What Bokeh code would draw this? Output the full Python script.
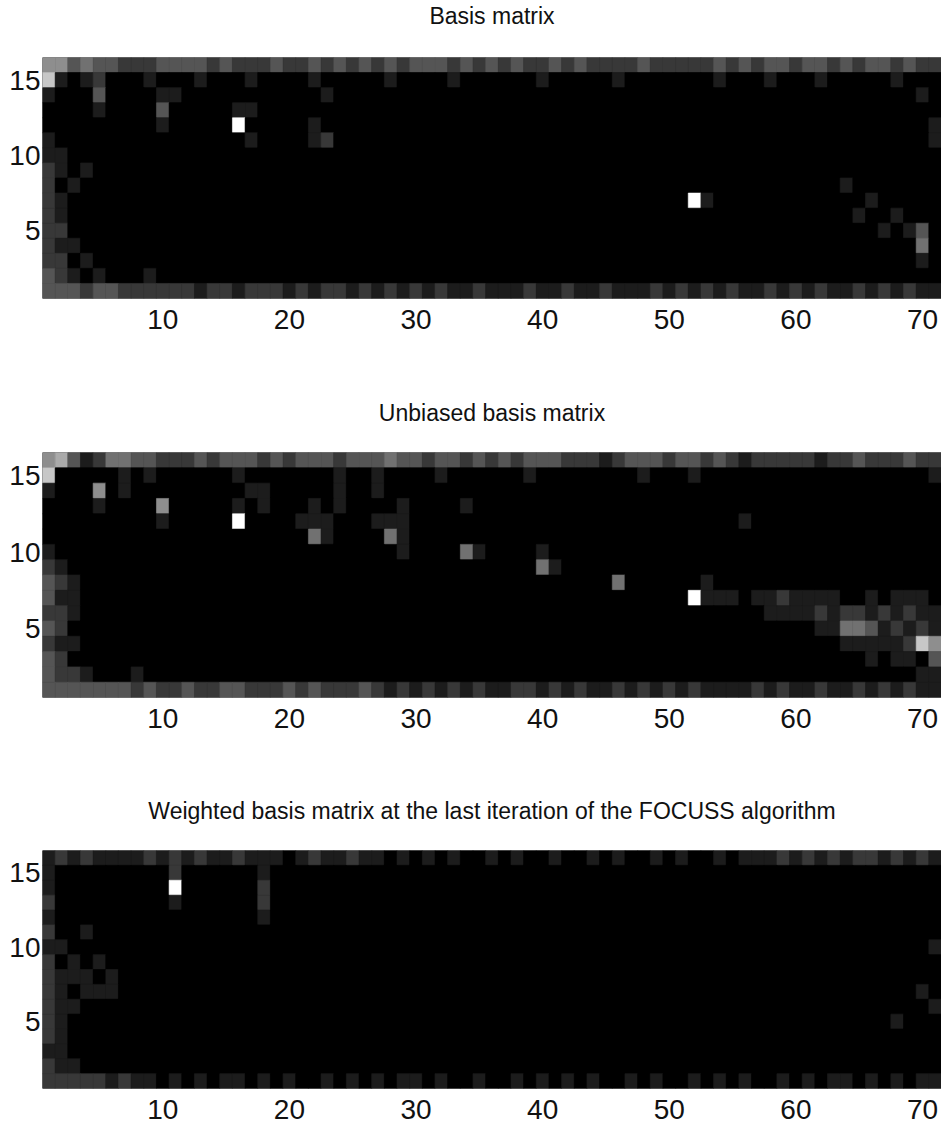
from bokeh.plotting import figure
from bokeh.layouts import column
from bokeh.models import Range1d, FixedTicker, ColumnDataSource, Title
from bokeh.transform import linear_cmap
from bokeh.palettes import gray
from bokeh.embed import file_html
from bokeh.resources import INLINE

# ---- data: intensity levels 0 (black) .. 9 (white), rows listed top (16) to bottom (1),
#      71 columns per row, written in groups of ten
N_ROWS = 16
N_COLS = 71
X_TICKS = [10, 20, 30, 40, 50, 60, 70]
Y_TICKS = [5, 10, 15]

titles = [
    "Basis matrix",
    "Unbiased basis matrix",
    "Weighted basis matrix at the last iteration of the FOCUSS algorithm",
]

basis_rows = [
    "5534332223 3332322232 2323232323 3323232322 3232222322 2223232332 3323233232 2",
    "7101200010 0010001000 0100000100 0010000001 0000010000 0001000100 0100000100 0",
    "1000300001 1000000000 0010000000 0000000000 0000000000 0000000000 0000000001 0",
    "0000100003 0000011000 0000000000 0000000000 0000000000 0000000000 0000000000 0",
    "0000000001 0000090000 0100000000 0000000000 0000000000 0000000000 0000000000 1",
    "1000000000 0000001000 0120000000 0000000000 0000000000 0000000000 0000000000 1",
    "1100000000 0000000000 0000000000 0000000000 0000000000 0000000000 0000000000 0",
    "2101000000 0000000000 0000000000 0000000000 0000000000 0000000000 0000000000 0",
    "2010000000 0000000000 0000000000 0000000000 0000000000 0000000000 0001000000 0",
    "2100000000 0000000000 0000000000 0000000000 0000000000 0910000000 0000010000 0",
    "2100000000 0000000000 0000000000 0000000000 0000000000 0000000000 0000100100 0",
    "2200000000 0000000000 0000000000 0000000000 0000000000 0000000000 0000001013 0",
    "2110000000 0000000000 0000000000 0000000000 0000000000 0000000000 0000000004 0",
    "2201000000 0000000000 0000000000 0000000000 0000000000 0000000000 0000000001 0",
    "3210100010 0000000000 0000000000 0000000000 0000000000 0000000000 0000000000 0",
    "3332332222 2212212221 2122121212 1211211121 1211211121 2121211212 1211212121 1",
]

unbiased_rows = [
    "5631244332 2232333232 3332333433 2332323233 3222123332 3323212222 2122322232 2",
    "7000001010 0000010000 0001001000 0100000010 0000000100 0100000000 0000000000 1",
    "1000501000 0000001100 0001001000 0000000000 0000000000 0000000000 0000000000 0",
    "0000100005 0000010100 0101000010 0001000000 0000000000 0000000000 0000000000 0",
    "0000000001 0000090000 1110001110 0000000000 0000000000 0000010000 0000000000 0",
    "0000000000 0000000000 0410000410 0000000000 0000000000 0000000000 0000000000 0",
    "1000000000 0000000000 0000000010 0004100001 0000000000 0000000000 0000000000 0",
    "2100000000 0000000000 0000000000 0000000004 1000000000 0000000000 0000000000 0",
    "3210000000 0000000000 0000000000 0000000000 0000040000 0010000000 0000000000 0",
    "3110000000 0000000000 0000000000 0000000000 0000000000 0911101121 1110010111 0",
    "2210000000 0000000000 0000000000 0000000000 0000000000 0000000111 1212212121 1",
    "3200000000 0000000000 0000000000 0000000000 0000000000 0000000000 0114431212 1",
    "2110000000 0000000000 0000000000 0000000000 0000000000 0000000000 0001111127 5",
    "3200000000 0000000000 0000000000 0000000000 0000000000 0000000000 0000010110 3",
    "3221000100 0000000000 0000000000 0000000000 0000000000 0000000000 0000000001 1",
    "3333333232 2322332223 2322232121 2121211221 2121121212 1211112121 1211212121 1",
]

weighted_rows = [
    "1212111121 2121121110 1211211010 1010010100 1001010010 1001011121 2121221212 1",
    "1000000000 2000000100 0000000000 0000000000 0000000000 0000000000 0000000000 0",
    "1000000000 9000000200 0000000000 0000000000 0000000000 0000000000 0000000000 0",
    "2000000000 1000000200 0000000000 0000000000 0000000000 0000000000 0000000000 0",
    "1000000000 0000000100 0000000000 0000000000 0000000000 0000000000 0000000000 0",
    "2001000000 0000000000 0000000000 0000000000 0000000000 0000000000 0000000000 0",
    "1100000000 0000000000 0000000000 0000000000 0000000000 0000000000 0000000000 1",
    "2010100000 0000000000 0000000000 0000000000 0000000000 0000000000 0000000000 0",
    "2111010000 0000000000 0000000000 0000000000 0000000000 0000000000 0000000000 0",
    "2101110000 0000000000 0000000000 0000000000 0000000000 0000000000 0000000001 0",
    "2110000000 0000000000 0000000000 0000000000 0000000000 0000000000 0000000000 1",
    "2100000000 0000000000 0000000000 0000000000 0000000000 0000000000 0000000100 0",
    "2100000000 0000000000 0000000000 0000000000 0000000000 0000000000 0000000000 0",
    "1100000000 0000000000 0000000000 0000000000 0000000000 0000000000 0000000000 0",
    "2110000000 0000000000 0000000000 0000000000 0000000000 0000000000 0000000000 0",
    "2222212110 1010110101 0010101011 0100100101 0101001010 0101010010 1011010101 1",
]

TICK_FONT = "Liberation Sans"
TITLE_FONT = "Liberation Sans"
FIG_W = 941
LEFT = 42


def make_panel(title, rows, height, top, bottom, title_standoff, spacer=0):
    xs, ys, vs = [], [], []
    for i, r in enumerate(rows):
        r = r.replace(" ", "")
        row_idx = N_ROWS - i
        for j, ch in enumerate(r):
            xs.append(j + 1)
            ys.append(row_idx)
            vs.append(int(ch))
    src = ColumnDataSource(dict(x=xs, y=ys, v=vs))

    p = figure(
        width=FIG_W, height=height,
        x_range=Range1d(0.5, N_COLS + 0.5), y_range=Range1d(0.5, N_ROWS + 0.5),
        output_backend="svg", toolbar_location=None, title=title,
        min_border_left=LEFT, min_border_right=0,
        min_border_top=top, min_border_bottom=bottom,
    )
    cmap = linear_cmap("v", gray(256), 0, 9)
    p.rect(x="x", y="y", width=1, height=1, source=src,
           fill_color=cmap, line_color=cmap, line_width=0.6)

    p.background_fill_color = "black"
    p.border_fill_color = "white"
    p.outline_line_color = None
    p.grid.visible = False

    if spacer:
        # empty spacer panel between frame and title, to lift the title
        p.add_layout(Title(text=" ", text_font_size="2px", standoff=spacer), "above")

    p.title.text_font = TITLE_FONT
    p.title.text_font_size = "23px"
    p.title.text_font_style = "normal"
    p.title.text_color = "#111111"
    p.title.align = "center"
    p.title.standoff = title_standoff

    p.xaxis.ticker = FixedTicker(ticks=X_TICKS)
    p.yaxis.ticker = FixedTicker(ticks=Y_TICKS)
    for ax in (p.xaxis, p.yaxis):
        ax.axis_line_color = None
        ax.major_tick_line_color = None
        ax.minor_tick_line_color = None
        ax.major_tick_out = 0
        ax.major_tick_in = 0
        ax.major_label_text_font = TICK_FONT
        ax.major_label_text_font_size = "28px"
        ax.major_label_text_color = "#111111"
    p.xaxis.major_label_standoff = 11
    p.yaxis.major_label_standoff = 2
    return p


p1 = make_panel(titles[0], basis_rows, 350, 55, 52, 0, spacer=25)
p2 = make_panel(titles[1], unbiased_rows, 398, 102, 51, 54)
p3 = make_panel(titles[2], weighted_rows, 383, 102, 43, 54)

layout = column(p1, p2, p3, spacing=0)
open("out.html", "w").write(file_html(layout, INLINE))
